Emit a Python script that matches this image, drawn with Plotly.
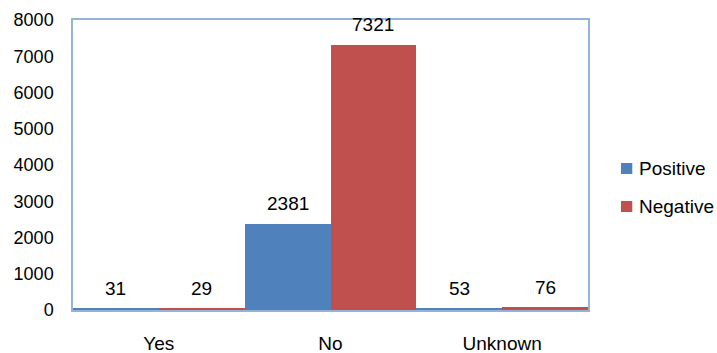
import plotly.graph_objects as go

# Test outcome counts by response category
categories = ["Yes", "No", "Unknown"]
positive = [31, 2381, 53]
negative = [29, 7321, 76]
y_ticks = [0, 1000, 2000, 3000, 4000, 5000, 6000, 7000, 8000]
series_names = ["Positive", "Negative"]

BLUE = "#4F81BD"
RED = "#C0504D"
FRAME = "#95B3D7"
FAMILY = "Liberation Sans, Arial, sans-serif"
FONT = dict(family=FAMILY, size=19, color="#000000")
TICK_FONT = dict(family=FAMILY, size=18, color="#000000")

fig = go.Figure()
fig.add_trace(go.Bar(name=series_names[0], x=categories, y=positive,
                     marker=dict(color=BLUE, line=dict(width=0)),
                     showlegend=False))
fig.add_trace(go.Bar(name=series_names[1], x=categories, y=negative,
                     marker=dict(color=RED, line=dict(width=0)),
                     showlegend=False))

# Value labels above each bar
for i, (p, n) in enumerate(zip(positive, negative)):
    for off, v in ((-0.25, p), (0.25, n)):
        fig.add_annotation(x=i + off, y=v, text=str(v), showarrow=False,
                           xref="x", yref="y", yanchor="middle", yshift=20,
                           font=FONT)

# Legend: colour swatch plus series name, stacked on the right
for name, color, yc in ((series_names[0], BLUE, 0.488), (series_names[1], RED, 0.357)):
    fig.add_shape(type="rect", xref="paper", yref="paper",
                  x0=1.064, x1=1.086, y0=yc - 0.019, y1=yc + 0.019,
                  fillcolor=color, line=dict(width=0))
    fig.add_annotation(xref="paper", yref="paper", x=1.095, y=yc,
                       xanchor="left", yanchor="middle", text=name,
                       showarrow=False, font=FONT)

fig.update_layout(
    width=717, height=353,
    margin=dict(l=73, r=129, t=20, b=43, autoexpand=False),
    paper_bgcolor="white", plot_bgcolor="white",
    barmode="group", bargap=0, bargroupgap=0,
    font=FONT,
    showlegend=False,
)
fig.update_xaxes(showline=True, mirror=True, linecolor=FRAME, linewidth=1.5,
                 showgrid=False, ticks="", ticklabelstandoff=15,
                 tickfont=FONT, automargin=False)
fig.update_yaxes(range=[0, 8000], tickvals=y_ticks, showline=True, mirror=True,
                 linecolor=FRAME, linewidth=1.5, showgrid=False, zeroline=False,
                 ticks="", ticklabelstandoff=14, tickfont=TICK_FONT,
                 automargin=False)

fig.write_html("out.html")
